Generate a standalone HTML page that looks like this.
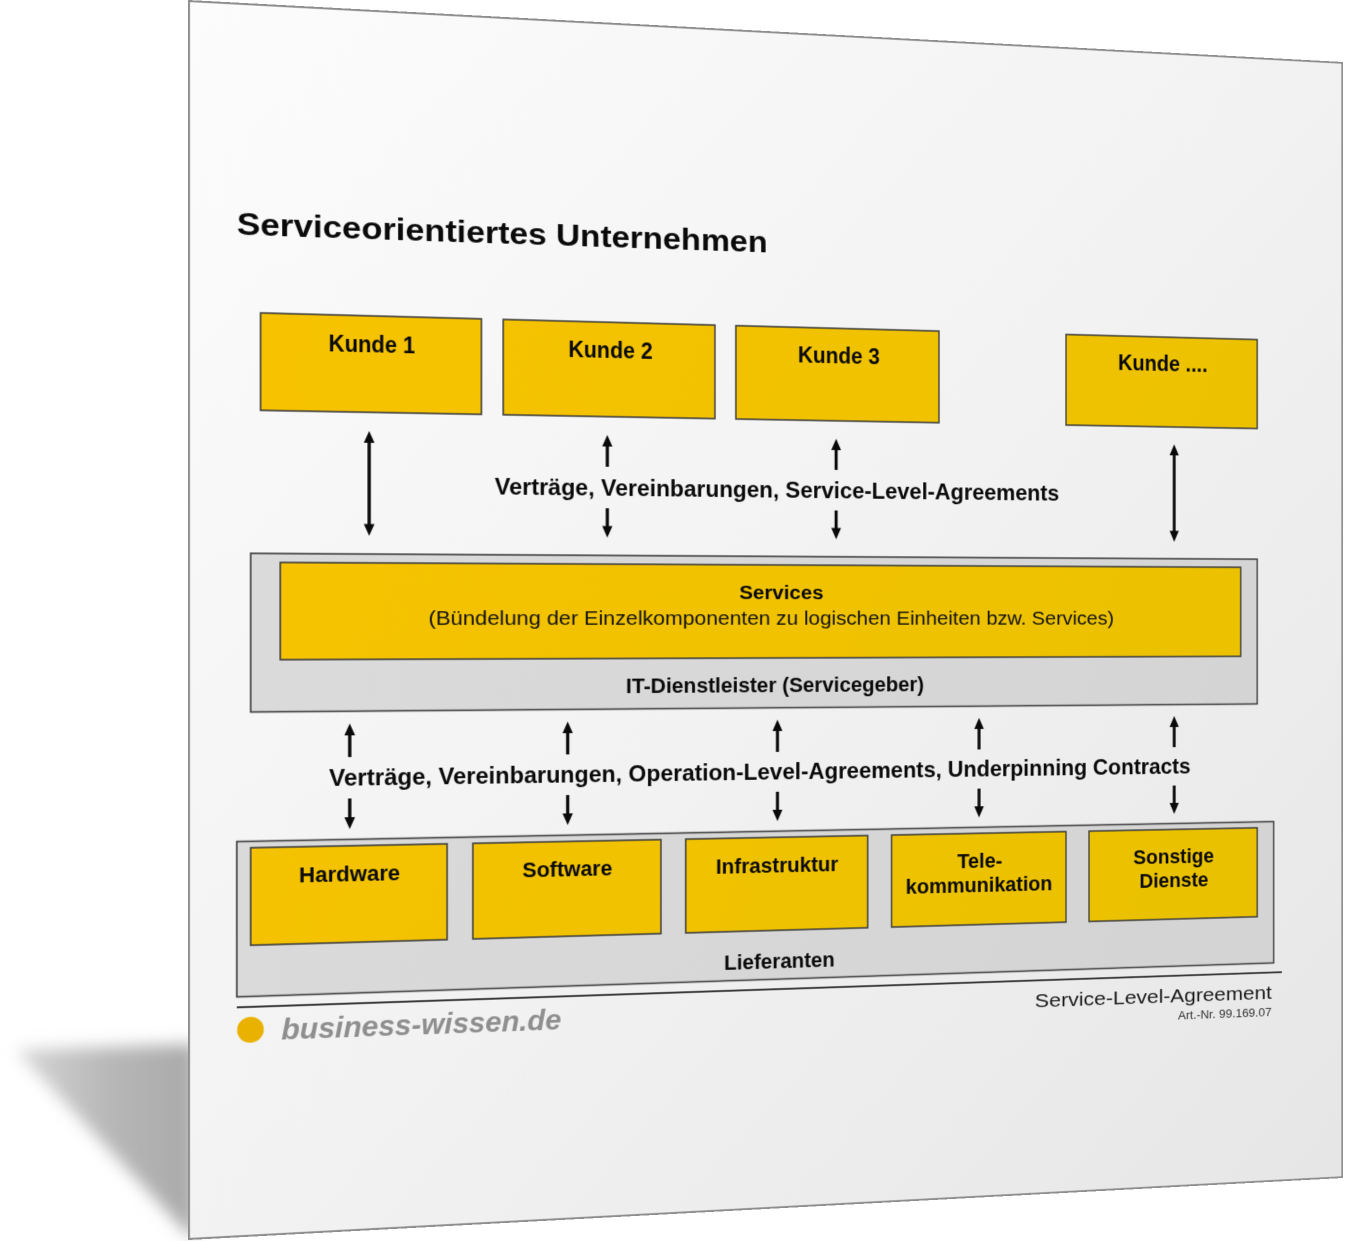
<!DOCTYPE html>
<html>
<head>
<meta charset="utf-8">
<style>
html,body{margin:0;padding:0;width:1345px;height:1241px;overflow:hidden;background:#ffffff}
#shadow{position:absolute;left:0;top:0}
#page{position:absolute;left:0;top:0;width:1283px;height:1240px;transform-origin:0 0;
transform:matrix3d(1.016541,0.053694,0,0.000086603, 0,1,0,0, 0,0,1,0, 188,0,0,1);}
#page svg{display:block}
.b{font-family:"Liberation Sans",Arial,sans-serif;font-weight:bold;fill:#0a0a0a}
.r{font-family:"Liberation Sans",Arial,sans-serif;font-weight:normal;fill:#111}
</style>
</head>
<body>
<svg id="shadow" width="1345" height="1241" viewBox="0 0 1345 1241">
  <defs>
    <filter id="bl" x="-30%" y="-30%" width="160%" height="160%"><feGaussianBlur stdDeviation="8"/></filter>
    <linearGradient id="sg" x1="0" y1="0" x2="1" y2="0">
      <stop offset="0" stop-color="#d6d6d6"/>
      <stop offset="0.5" stop-color="#b8b8b8"/>
      <stop offset="1" stop-color="#a9a9a9"/>
    </linearGradient>
  </defs>
  <polygon points="16,1050 196,1044 196,1238 186,1232" fill="url(#sg)" filter="url(#bl)"/>
</svg>

<div id="page">
<svg width="1283" height="1240" viewBox="0 0 1283 1240">
  <defs>
    <linearGradient id="pg" gradientUnits="userSpaceOnUse" x1="0" y1="0" x2="1283" y2="1240">
      <stop offset="0" stop-color="#fcfcfc"/>
      <stop offset="0.5" stop-color="#f2f2f2"/>
      <stop offset="1" stop-color="#e6e6e6"/>
    </linearGradient>
    <linearGradient id="yg" gradientUnits="userSpaceOnUse" x1="0" y1="300" x2="1283" y2="950">
      <stop offset="0" stop-color="#f8c300"/>
      <stop offset="1" stop-color="#e8c100"/>
    </linearGradient>
    <linearGradient id="gg" gradientUnits="userSpaceOnUse" x1="0" y1="500" x2="1283" y2="1000">
      <stop offset="0" stop-color="#dbdbdb"/>
      <stop offset="1" stop-color="#d3d3d3"/>
    </linearGradient>
  </defs>

  <!-- page -->
  <rect x="1" y="1" width="1281" height="1238" fill="url(#pg)" stroke="#8d8d8d" stroke-width="2"/>

  <!-- title -->
  <text class="b" x="49" y="233" font-size="32" textLength="561" lengthAdjust="spacingAndGlyphs">Serviceorientiertes Unternehmen</text>

  <!-- Kunden -->
  <g fill="url(#yg)" stroke="#3c3c3c" stroke-width="1.6">
    <rect x="73" y="311" width="228" height="98"/>
    <rect x="324" y="311" width="228" height="98"/>
    <rect x="575" y="311" width="228" height="98"/>
    <rect x="950" y="311" width="228" height="98"/>
  </g>
  <g class="b" font-size="23" text-anchor="middle">
    <text class="b" x="187" y="348" textLength="89.5" lengthAdjust="spacingAndGlyphs">Kunde 1</text>
    <text class="b" x="438.6" y="348" textLength="90.8" lengthAdjust="spacingAndGlyphs">Kunde 2</text>
    <text class="b" x="689.7" y="348" textLength="92" lengthAdjust="spacingAndGlyphs">Kunde 3</text>
    <text class="b" x="1064.6" y="348" textLength="106.8" lengthAdjust="spacingAndGlyphs">Kunde ....</text>
  </g>

  <!-- top arrows -->
  <g stroke="#0a0a0a" stroke-width="3.4" fill="none">
    <line x1="184" y1="436" x2="184" y2="527"/>
    <line x1="1078" y1="436" x2="1078" y2="527"/>
    <line x1="435" y1="436" x2="435" y2="461"/>
    <line x1="435" y1="504" x2="435" y2="527"/>
    <line x1="686.5" y1="436" x2="686.5" y2="461"/>
    <line x1="686.5" y1="504" x2="686.5" y2="527"/>
  </g>
  <g fill="#0a0a0a">
    <polygon points="184,428 178.5,440 189.5,440"/>
    <polygon points="184,534.5 178.5,522.5 189.5,522.5"/>
    <polygon points="1078,428 1072.5,440 1083.5,440"/>
    <polygon points="1078,534.5 1072.5,522.5 1083.5,522.5"/>
    <polygon points="435,428 429.5,440 440.5,440"/>
    <polygon points="435,534.5 429.5,522.5 440.5,522.5"/>
    <polygon points="686.5,428 681,440 692,440"/>
    <polygon points="686.5,534.5 681,522.5 692,522.5"/>
  </g>
  <text class="b" x="315" y="491" font-size="23" textLength="627" lengthAdjust="spacingAndGlyphs">Verträge, Vereinbarungen, Service-Level-Agreements</text>

  <!-- IT-Dienstleister -->
  <rect x="63" y="553" width="1115" height="159.5" fill="url(#gg)" stroke="#3c3c3c" stroke-width="1.6"/>
  <rect x="93" y="562" width="1065" height="98" fill="url(#yg)" stroke="#3c3c3c" stroke-width="1.6"/>
  <text class="b" x="625.5" y="598" font-size="21" text-anchor="middle" textLength="93.6" lengthAdjust="spacingAndGlyphs">Services</text>
  <text class="r" x="626" y="625" font-size="20" text-anchor="middle" textLength="761" lengthAdjust="spacingAndGlyphs">(Bündelung der Einzelkomponenten zu logischen Einheiten bzw. Services)</text>
  <text class="b" x="455" y="696.4" font-size="22" textLength="331" lengthAdjust="spacingAndGlyphs">IT-Dienstleister (Servicegeber)</text>

  <!-- bottom arrows -->
  <g stroke="#0a0a0a" stroke-width="3.4" fill="none">
    <line x1="164" y1="733" x2="164" y2="759"/><line x1="164" y1="801" x2="164" y2="824"/>
    <line x1="392.5" y1="733" x2="392.5" y2="759"/><line x1="392.5" y1="801" x2="392.5" y2="824"/>
    <line x1="621" y1="733" x2="621" y2="759"/><line x1="621" y1="801" x2="621" y2="824"/>
    <line x1="849" y1="733" x2="849" y2="759"/><line x1="849" y1="801" x2="849" y2="824"/>
    <line x1="1078" y1="733" x2="1078" y2="759"/><line x1="1078" y1="801" x2="1078" y2="824"/>
  </g>
  <g fill="#0a0a0a">
    <polygon points="164,725 158.5,737 169.5,737"/><polygon points="164,832 158.5,820 169.5,820"/>
    <polygon points="392.5,725 387,737 398,737"/><polygon points="392.5,832 387,820 398,820"/>
    <polygon points="621,725 615.5,737 626.5,737"/><polygon points="621,832 615.5,820 626.5,820"/>
    <polygon points="849,725 843.5,737 854.5,737"/><polygon points="849,832 843.5,820 854.5,820"/>
    <polygon points="1078,725 1072.5,737 1083.5,737"/><polygon points="1078,832 1072.5,820 1083.5,820"/>
  </g>
  <text class="b" x="142.7" y="788.3" font-size="23" textLength="955" lengthAdjust="spacingAndGlyphs">Verträge, Vereinbarungen, Operation-Level-Agreements, Underpinning Contracts</text>

  <!-- Lieferanten -->
  <rect x="49" y="842.5" width="1149" height="156" fill="url(#gg)" stroke="#3c3c3c" stroke-width="1.6"/>
  <g fill="url(#yg)" stroke="#3c3c3c" stroke-width="1.6">
    <rect x="63" y="849" width="202" height="98"/>
    <rect x="292" y="849" width="201" height="98"/>
    <rect x="520" y="849" width="202" height="98"/>
    <rect x="749" y="849" width="201" height="98"/>
    <rect x="977" y="849" width="201" height="98"/>
  </g>
  <text class="b" x="164" y="885" font-size="22" text-anchor="middle" textLength="104" lengthAdjust="spacingAndGlyphs">Hardware</text>
  <text class="b" x="392.3" y="885" font-size="22" text-anchor="middle" textLength="96.2" lengthAdjust="spacingAndGlyphs">Software</text>
  <text class="b" x="621" y="886" font-size="22" text-anchor="middle" textLength="136" lengthAdjust="spacingAndGlyphs">Infrastruktur</text>
  <text class="b" x="849.9" y="886" font-size="22" text-anchor="middle" textLength="51.8" lengthAdjust="spacingAndGlyphs">Tele-</text>
  <text class="b" x="849.5" y="911.7" font-size="22" text-anchor="middle" textLength="169" lengthAdjust="spacingAndGlyphs">kommunikation</text>
  <text class="b" x="1077.5" y="886" font-size="22" text-anchor="middle" textLength="96.4" lengthAdjust="spacingAndGlyphs">Sonstige</text>
  <text class="b" x="1077.7" y="911.6" font-size="22" text-anchor="middle" textLength="82.5" lengthAdjust="spacingAndGlyphs">Dienste</text>
  <text class="b" x="623.5" y="987.2" font-size="22" text-anchor="middle" textLength="123" lengthAdjust="spacingAndGlyphs">Lieferanten</text>

  <!-- footer -->
  <line x1="49" y1="1009" x2="1208" y2="1009" stroke="#3a3a3a" stroke-width="2"/>
  <text class="r" x="1195.6" y="1038" font-size="21" text-anchor="end" textLength="282" lengthAdjust="spacingAndGlyphs" style="fill:#1a1a1a">Service-Level-Agreement</text>
  <text class="r" x="1195.5" y="1057" font-size="12" text-anchor="end" textLength="113" lengthAdjust="spacingAndGlyphs" style="fill:#333">Art.-Nr. 99.169.07</text>
  <ellipse cx="62.8" cy="1032" rx="13.5" ry="13" fill="#e9b100"/>
  <text x="94" y="1043" font-size="29" font-style="italic" font-weight="bold" textLength="291.6" lengthAdjust="spacingAndGlyphs" style="font-family:'Liberation Sans',Arial,sans-serif;fill:#8e8e8e">business-wissen.de</text>
</svg>
</div>
</body>
</html>
